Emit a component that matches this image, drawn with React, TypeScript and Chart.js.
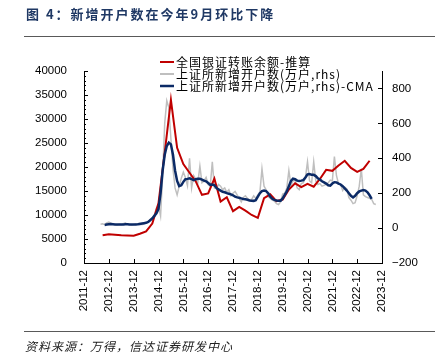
import React, { useEffect, useRef } from "react";
import { Chart, registerables } from "chart.js";

Chart.register(...registerables);

// Category axis: months from 2011-12 to 2023-12
const startYear = 2011;
const startMonth = 12;
const monthCount = 145;

// 全国银证转账余额-推算 (quarterly, first value 2012-09), left axis
const redStartIndex = 9;
const redStep = 3;
const redValues = [
  5800, 6000, 5900, 5800, 5750, 5700, 6100, 6600, 8200, 12500, 23000, 34000,
  24000, 20600, 18800, 17000, 14200, 14500, 17600, 12800, 13700, 10800, 11700,
  10900, 10000, 9400, 13500, 14300, 12900, 13200, 15300, 16600, 15800, 16500,
  15900, 17500, 19400, 19200, 20300, 21300, 19800, 19000, 19600, 21300,
];

// 上证所新增开户数(万户,rhs) monthly, first value 2012-08
const greyStartIndex = 8;
const greyValues = [
  22, 25, 20, 30, 35, 28, 22, 20, 18, 22, 20, 25, 30, 22, 20, 18, 20, 25, 22,
  28, 20, 25, 30, 35, 50, 60, 75, 115, 130, 70, 300, 600, 730, 690, 510, 340,
  230, 190, 240, 285, 320, 290, 243, 400, 230, 300, 280, 260, 355, 260, 270,
  290, 250, 240, 380, 230, 225, 250, 240, 220, 230, 205, 220, 185, 200, 210,
  190, 170, 150, 175, 185, 170, 160, 165, 185, 170, 190, 205, 340, 240, 220,
  180, 170, 160, 155, 140, 135, 150, 195, 200, 230, 330, 245, 270, 275, 230,
  220, 255, 260, 290, 380, 270, 260, 380, 270, 250, 255, 240, 245, 250, 260,
  275, 270, 410, 300, 255, 250, 215, 235, 225, 175, 160, 140, 145, 185, 240,
  340, 190, 180, 175, 170, 165, 140, 135,
];

// 上证所新增开户数(万户,rhs)-CMA monthly, first value 2012-10
const blueStartIndex = 10;
const blueValues = [
  18, 20, 22, 23, 22, 21, 21, 20, 20, 21, 22, 22, 21, 20, 20, 21, 22, 24, 26,
  28, 30, 35, 45, 55, 70, 85, 110, 200, 330, 420, 470, 490, 480, 420, 330, 270,
  240, 245, 265, 280, 282, 285, 280, 275, 280, 282, 282, 278, 272, 268, 258,
  248, 250, 245, 230, 222, 215, 208, 205, 200, 197, 193, 188, 180, 176, 174,
  170, 167, 165, 162, 158, 157, 156, 160, 180, 200, 212, 215, 212, 200, 180,
  168, 162, 158, 156, 157, 170, 190, 210, 240, 270, 283, 280, 272, 270, 272,
  275, 290, 308, 310, 305, 305, 298, 285, 278, 268, 262, 255, 245, 243, 255,
  263, 262, 255, 250, 240, 228, 215, 200, 185, 176, 185, 200, 210, 215, 218,
  215, 205, 188, 167,
];

const seriesNames = [
  "全国银证转账余额-推算",
  "上证所新增开户数(万户,rhs)",
  "上证所新增开户数(万户,rhs)-CMA",
];
const seriesColors = ["#C00000", "#BFBFBF", "#0B2A66"];

const titleText = "图 4：新增开户数在今年9月环比下降";
const sourceText = "资料来源：万得，信达证券研发中心";

const leftMax = 40000;
const leftStep = 5000;
const rightMin = -200;
const rightMax = 900;
const rightStep = 200;

function buildLabels(): string[] {
  const out: string[] = [];
  for (let i = 0; i < monthCount; i++) {
    const total = startYear * 12 + (startMonth - 1) + i;
    const y = Math.floor(total / 12);
    const m = (total % 12) + 1;
    out.push(`${y}-${m < 10 ? "0" + m : m}`);
  }
  return out;
}

function place(start: number, step: number, values: number[]): (number | null)[] {
  const arr: (number | null)[] = new Array(monthCount).fill(null);
  values.forEach((v, k) => {
    const idx = start + k * step;
    if (idx < monthCount) arr[idx] = v;
  });
  return arr;
}

const FONT = '"Liberation Sans", Arial, sans-serif';
const CJK = '"Noto Sans CJK SC", sans-serif';

const decorPlugin = {
  id: "decor",
  afterDraw(chart: any) {
    const ctx = chart.ctx as CanvasRenderingContext2D;
    const area = chart.chartArea;
    const yL = chart.scales.y;
    const yR = chart.scales.y1;
    const xS = chart.scales.x;
    ctx.save();
    // title
    ctx.fillStyle = "#1F3864";
    ctx.font = `bold 13px ${CJK}`;
    (ctx as any).letterSpacing = "2px";
    ctx.textBaseline = "middle";
    ctx.textAlign = "left";
    ctx.fillText(titleText, 26, 14);
    (ctx as any).letterSpacing = "0px";
    // separators
    ctx.strokeStyle = "#595959";
    ctx.lineWidth = 1;
    ctx.beginPath();
    ctx.moveTo(24, 36.5);
    ctx.lineTo(435, 36.5);
    ctx.moveTo(24, 331.5);
    ctx.lineTo(435, 331.5);
    ctx.stroke();
    // source
    ctx.fillStyle = "#222";
    ctx.font = `italic 12px ${CJK}`;
    (ctx as any).letterSpacing = "1px";
    ctx.fillText(sourceText, 25, 346);
    (ctx as any).letterSpacing = "0px";

    // axis ticks (inward)
    ctx.strokeStyle = "#000";
    ctx.lineWidth = 1;
    ctx.beginPath();
    for (let v = 0; v <= leftMax; v += 1000) {
      const py = Math.round(yL.getPixelForValue(v)) + 0.5;
      const len = v % leftStep === 0 ? 4 : 2;
      ctx.moveTo(area.left, py);
      ctx.lineTo(area.left + len, py);
    }
    for (let v = rightMin; v <= rightMax - 100; v += rightStep) {
      const py = Math.round(yR.getPixelForValue(v)) + 0.5;
      ctx.moveTo(area.right, py);
      ctx.lineTo(area.right - 4, py);
    }
    for (let i = 0; i < monthCount; i += 12) {
      const px = Math.round(xS.getPixelForValue(i)) + 0.5;
      ctx.moveTo(px, area.bottom);
      ctx.lineTo(px, area.bottom - 4);
    }
    ctx.stroke();

    // legend
    const rows = [62, 74, 86];
    ctx.font = `12px ${CJK}`;
    (ctx as any).letterSpacing = "1px";
    ctx.textBaseline = "middle";
    rows.forEach((ry, k) => {
      ctx.strokeStyle = seriesColors[k];
      ctx.lineWidth = k === 2 ? 2.5 : 2;
      ctx.beginPath();
      ctx.moveTo(160, ry);
      ctx.lineTo(174, ry);
      ctx.stroke();
      ctx.fillStyle = "#000";
      ctx.fillText(seriesNames[k], 176, ry);
    });
    (ctx as any).letterSpacing = "0px";
    ctx.restore();
  },
};

export default function App() {
  const ref = useRef<HTMLCanvasElement | null>(null);
  useEffect(() => {
    document.body.style.margin = "0";
    const labels = buildLabels();
    const red = place(redStartIndex, redStep, redValues);
    const grey = place(greyStartIndex, 1, greyValues);
    const blue = place(blueStartIndex, 1, blueValues);
    const chart = new Chart(ref.current as HTMLCanvasElement, {
      type: "line",
      data: {
        labels,
        datasets: [
          {
            label: seriesNames[0],
            data: red,
            borderColor: seriesColors[0],
            borderWidth: 2,
            pointRadius: 0,
            spanGaps: true,
            yAxisID: "y",
            order: 1,
            tension: 0,
          },
          {
            label: seriesNames[1],
            data: grey,
            borderColor: seriesColors[1],
            borderWidth: 1.5,
            pointRadius: 0,
            yAxisID: "y1",
            order: 2,
            tension: 0,
          },
          {
            label: seriesNames[2],
            data: blue,
            borderColor: seriesColors[2],
            borderWidth: 2.5,
            pointRadius: 0,
            yAxisID: "y1",
            order: 0,
            tension: 0,
          },
        ],
      },
      options: {
        responsive: false,
        animation: false,
        devicePixelRatio: 1,
        layout: { padding: { left: 0, right: 0, top: 71, bottom: 0 } },
        plugins: { legend: { display: false }, tooltip: { enabled: false } },
        scales: {
          x: {
            type: "category",
            offset: false,
            grid: { display: false, drawTicks: false },
            border: { display: true, color: "#000", width: 1 },
            ticks: {
              autoSkip: false,
              maxRotation: 90,
              minRotation: 90,
              padding: 7,
              color: "#000",
              font: { family: FONT, size: 11.5 },
              callback: (_v: any, i: number) =>
                labels[i].endsWith("-12") ? labels[i] : "",
            },
            afterFit: (s: any) => {
              s.height = 99;
            },
          },
          y: {
            position: "left",
            min: 0,
            max: leftMax,
            grid: { display: false, drawTicks: false },
            border: { display: true, color: "#000", width: 1 },
            ticks: {
              stepSize: leftStep,
              padding: 17,
              color: "#000",
              font: { family: FONT, size: 11.5 },
              callback: (v: any) => String(v),
            },
            afterFit: (s: any) => {
              s.width = 84;
            },
          },
          y1: {
            position: "right",
            min: rightMin,
            max: rightMax,
            grid: { display: false, drawTicks: false },
            border: { display: true, color: "#000", width: 1 },
            ticks: {
              stepSize: rightStep,
              includeBounds: false,
              padding: 10,
              color: "#000",
              font: { family: FONT, size: 11.5 },
              callback: (v: any) =>
                v > 800 ? "" : v < 0 ? "\u2212" + Math.abs(v) : String(v),
            },
            afterFit: (s: any) => {
              s.width = 57;
            },
          },
        },
      },
      plugins: [decorPlugin],
    });
    return () => chart.destroy();
  }, []);
  return <canvas ref={ref} width={439} height={362} style={{ display: "block" }} />;
}
